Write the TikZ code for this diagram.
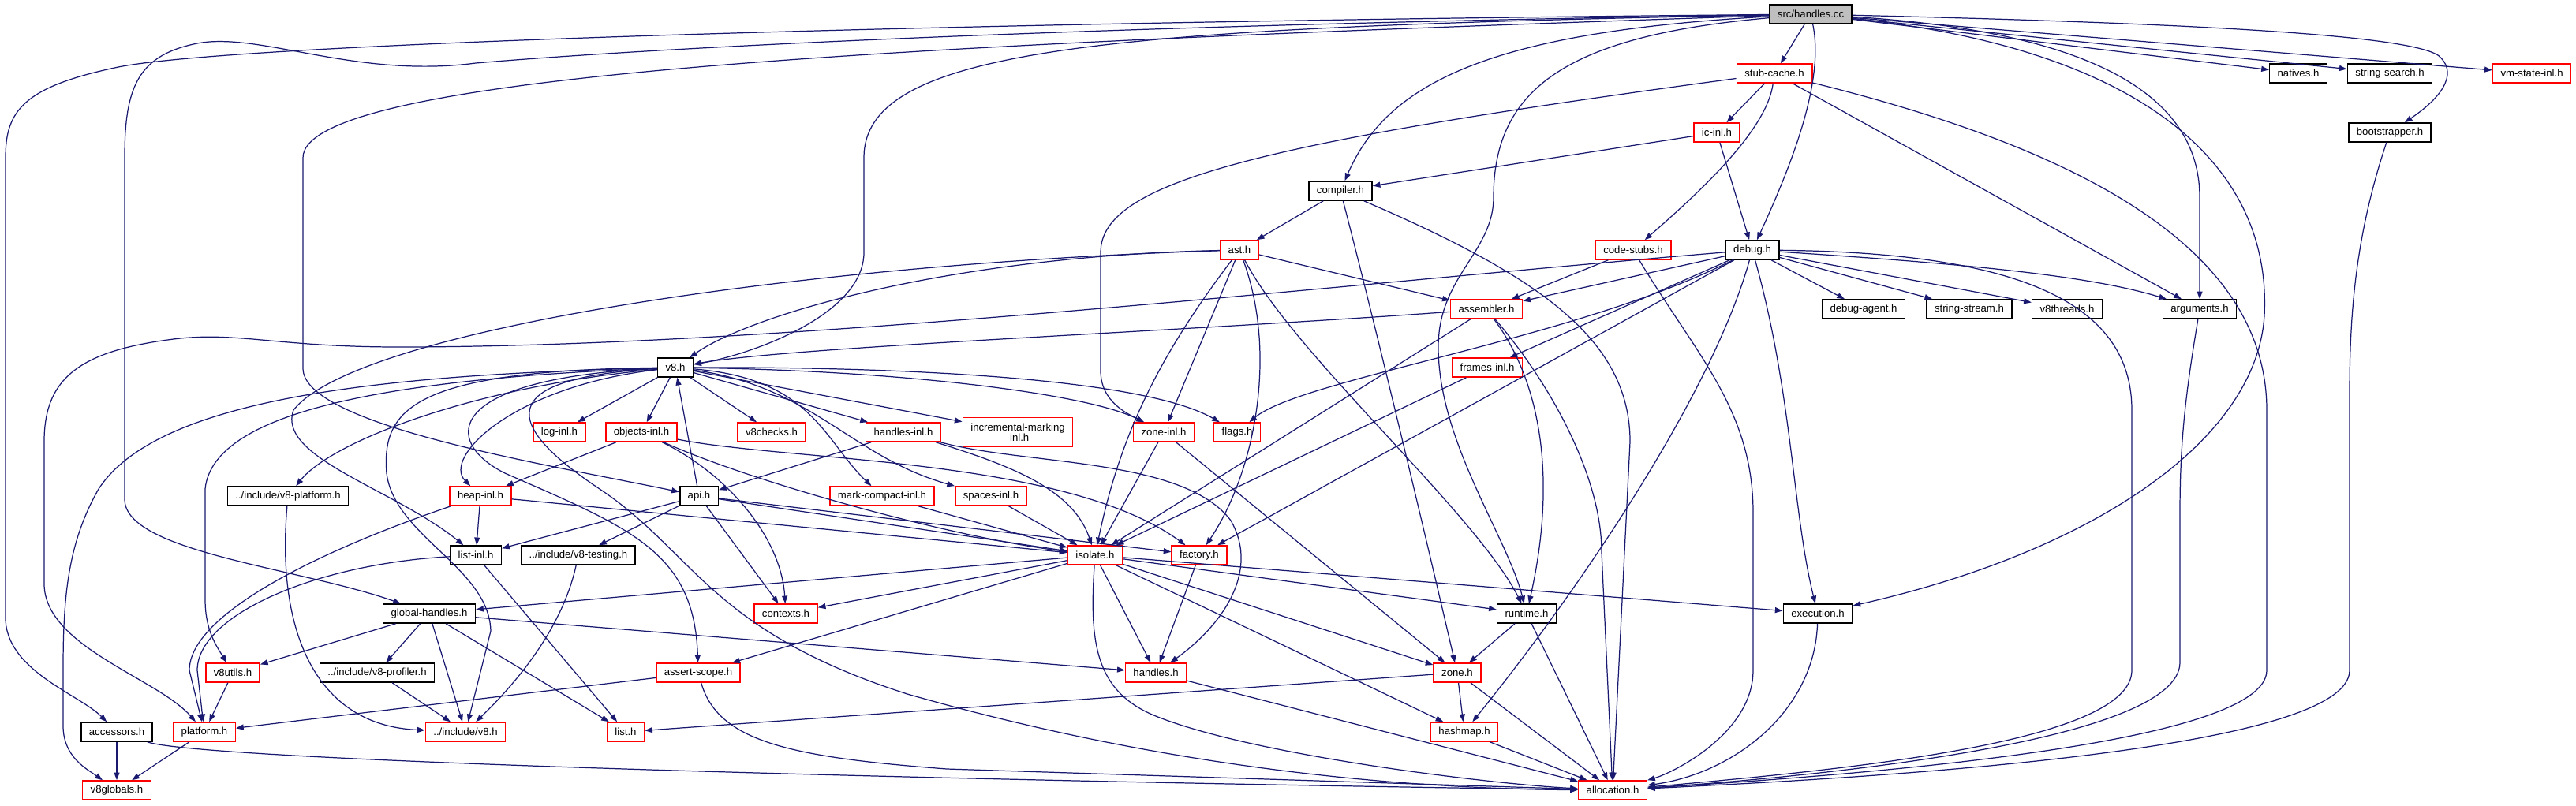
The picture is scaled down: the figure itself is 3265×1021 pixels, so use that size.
\documentclass[tikz,border=0pt]{standalone}
\usepackage{fontspec}
\setmainfont{Liberation Sans}
\usepackage{xcolor}
\usetikzlibrary{arrows.meta}
\definecolor{edgeblue}{HTML}{191970}
\definecolor{rootgray}{HTML}{BFBFBF}

\begin{document}
\begin{tikzpicture}[x=0.02cm, y=-0.02cm,
    hdr/.style={draw=black, line width=0.9pt, fill=white, inner xsep=0.2cm, inner ysep=0pt,
        minimum height=0.48cm, font=\fontsize{7.5}{7.6}\selectfont},
    hdrred/.style={hdr, draw=red},
    hdrroot/.style={hdr, fill=rootgray},
    incl/.style={draw=edgeblue, line width=0.7pt, -{Triangle[length=5.5pt, width=4pt]}}]
    \useasboundingbox (0,0) rectangle (3265,1021);

    % 1. Các nút (từng hàng từ trên xuống)
    \node[hdrroot] (handlescc) at (2295,18) {src/handles.cc};

    \node[hdrred] (stubcache) at (2249,93) {stub-cache.h};
    \node[hdr] (natives) at (2913,93) {natives.h};
    \node[hdr] (strsearch) at (3029,93) {string-search.h};
    \node[hdrred] (vmstate) at (3209,93) {vm-state-inl.h};

    \node[hdrred] (icinl) at (2176,168) {ic-inl.h};
    \node[hdr] (bootstrapper) at (3029,168) {bootstrapper.h};

    \node[hdr] (compiler) at (1699,242) {compiler.h};

    \node[hdrred] (ast) at (1571,317) {ast.h};
    \node[hdrred] (codestubs) at (2070,317) {code-stubs.h};
    \node[hdr] (debug) at (2221,317) {debug.h};

    \node[hdrred] (assembler) at (1884,392) {assembler.h};
    \node[hdr] (debugagent) at (2362,392) {debug-agent.h};
    \node[hdr] (strstream) at (2496,392) {string-stream.h};
    \node[hdr] (v8threads) at (2620,392) {v8threads.h};
    \node[hdr] (arguments) at (2788,392) {arguments.h};

    \node[hdr] (v8) at (856,466) {v8.h};
    \node[hdrred] (framesinl) at (1885,466) {frames-inl.h};

    \node[hdrred] (loginl) at (709,548) {log-inl.h};
    \node[hdrred] (objectsinl) at (813,548) {objects-inl.h};
    \node[hdrred] (v8checks) at (978,548) {v8checks.h};
    \node[hdrred] (handlesinl) at (1145,548) {handles-inl.h};
    \node[hdrred, align=center, minimum height=0.74cm] (incmarking) at (1290,548) {incremental-marking\\-inl.h};
    \node[hdrred] (zoneinl) at (1475,548) {zone-inl.h};
    \node[hdrred] (flags) at (1568,548) {flags.h};

    \node[hdr] (v8platform) at (365,629) {../include/v8-platform.h};
    \node[hdrred] (heapinl) at (609,629) {heap-inl.h};
    \node[hdr] (api) at (886,629) {api.h};
    \node[hdrred] (markcompact) at (1118,629) {mark-compact-inl.h};
    \node[hdrred] (spacesinl) at (1256,629) {spaces-inl.h};

    \node[hdr] (listinl) at (603,704) {list-inl.h};
    \node[hdr] (v8testing) at (733,704) {../include/v8-testing.h};
    \node[hdrred] (isolate) at (1388,704) {isolate.h};
    \node[hdrred] (factory) at (1520,704) {factory.h};

    \node[hdr] (globalhandles) at (544,778) {global-handles.h};
    \node[hdrred] (contexts) at (996,778) {contexts.h};
    \node[hdr] (runtime) at (1935,778) {runtime.h};
    \node[hdr] (execution) at (2304,778) {execution.h};

    \node[hdrred] (v8utils) at (295,853) {v8utils.h};
    \node[hdr] (v8profiler) at (478,853) {../include/v8-profiler.h};
    \node[hdrred] (assertscope) at (885,853) {assert-scope.h};
    \node[hdrred] (handles) at (1465,853) {handles.h};
    \node[hdrred] (zone) at (1847,853) {zone.h};

    \node[hdr] (accessors) at (148,928) {accessors.h};
    \node[hdrred] (platform) at (259,928) {platform.h};
    \node[hdrred] (incv8) at (590,928) {../include/v8.h};
    \node[hdrred] (list) at (793,928) {list.h};
    \node[hdrred] (hashmap) at (1856,928) {hashmap.h};

    \node[hdrred] (v8globals) at (148,1002) {v8globals.h};
    \node[hdrred] (allocation) at (2044,1002) {allocation.h};

    % 2. Cạnh xuất phát từ src/handles.cc
    \draw[incl] (handlescc) -- (stubcache);
    \draw[incl] (handlescc) .. controls (2312,100) and (2275,200) .. (debug);
    \draw[incl] (handlescc) -- (natives);
    \draw[incl] (handlescc) -- (strsearch);
    \draw[incl] (handlescc) -- (vmstate);
    \draw[incl] (handlescc) .. controls (2800,30) and (3050,45) .. (3090,70) .. controls (3115,90) and (3100,120) .. (bootstrapper);
    \draw[incl] (handlescc) .. controls (2650,40) and (2788,120) .. (2788,250) -- (arguments);
    \draw[incl] (handlescc) .. controls (2700,60) and (2880,200) .. (2870,400) .. controls (2860,560) and (2650,700) .. (execution);
    \draw[incl] (handlescc) .. controls (1990,45) and (1893,110) .. (1893,250) .. controls (1893,320) and (1823,350) .. (1823,440) .. controls (1823,560) and (1910,680) .. (runtime);
    \draw[incl] (handlescc) .. controls (1900,40) and (1760,100) .. (compiler);
    \draw[incl] (handlescc) .. controls (1400,35) and (1095,60) .. (1095,200) -- (1095,320) .. controls (1095,400) and (950,450) .. (v8);
    \draw[incl] (handlescc) .. controls (1200,55) and (384,90) .. (384,200) -- (384,467) .. controls (384,540) and (700,590) .. (api);
    \draw[incl] (handlescc) .. controls (1500,30) and (900,55) .. (603,80) .. controls (450,100) and (330,40) .. (250,55) .. controls (175,70) and (158,110) .. (158,200) -- (158,633) .. controls (158,700) and (380,720) .. (globalhandles);
    \draw[incl] (handlescc) .. controls (1200,28) and (300,55) .. (150,85) .. controls (30,110) and (7,140) .. (7,200) -- (7,783) .. controls (7,850) and (100,880) .. (accessors);

    % 3. stub-cache.h, ic-inl.h, bootstrapper.h, compiler.h
    \draw[incl] (stubcache) -- (icinl);
    \draw[incl] (stubcache) .. controls (2240,160) and (2170,230) .. (codestubs);
    \draw[incl] (stubcache) -- (arguments);
    \draw[incl] (stubcache) .. controls (1600,180) and (1395,230) .. (1395,320) -- (1395,470) .. controls (1395,510) and (1430,525) .. (zoneinl);
    \draw[incl] (stubcache) .. controls (2600,180) and (2873,300) .. (2873,520) -- (2873,850) .. controls (2873,940) and (2400,980) .. (allocation);
    \draw[incl] (icinl) -- (compiler);
    \draw[incl] (icinl) -- (debug);
    \draw[incl] (bootstrapper) .. controls (2985,300) and (2978,400) .. (2978,500) -- (2978,850) .. controls (2978,950) and (2400,985) .. (allocation);
    \draw[incl] (compiler) -- (ast);
    \draw[incl] (compiler) .. controls (1740,400) and (1800,650) .. (zone);
    \draw[incl] (compiler) .. controls (1950,350) and (2066,430) .. (2066,560) -- (allocation);

    % 4. ast.h, code-stubs.h
    \draw[incl] (ast) .. controls (1200,325) and (950,400) .. (v8);
    \draw[incl] (ast) -- (assembler);
    \draw[incl] (ast) .. controls (1470,450) and (1420,550) .. (isolate);
    \draw[incl] (ast) -- (zoneinl);
    \draw[incl] (ast) .. controls (1620,450) and (1590,600) .. (factory);
    \draw[incl] (ast) .. controls (1640,450) and (1870,650) .. (runtime);
    \draw[incl] (ast) .. controls (1000,335) and (450,420) .. (372,520) .. controls (350,580) and (500,620) .. (listinl);
    \draw[incl] (codestubs) -- (assembler);
    \draw[incl] (codestubs) .. controls (2150,450) and (2222,520) .. (2222,650) -- (2222,850) .. controls (2222,930) and (2120,980) .. (allocation);

    % 5. debug.h
    \draw[incl] (debug) -- (assembler);
    \draw[incl] (debug) -- (framesinl);
    \draw[incl] (debug) -- (debugagent);
    \draw[incl] (debug) -- (strstream);
    \draw[incl] (debug) -- (v8threads);
    \draw[incl] (debug) .. controls (2500,335) and (2650,350) .. (arguments);
    \draw[incl] (debug) .. controls (2000,430) and (1650,480) .. (flags);
    \draw[incl] (debug) -- (factory);
    \draw[incl] (debug) .. controls (2170,500) and (2000,750) .. (hashmap);
    \draw[incl] (debug) .. controls (2272,500) and (2272,650) .. (execution);
    \draw[incl] (debug) .. controls (2550,320) and (2702,380) .. (2702,520) -- (2702,850) .. controls (2702,940) and (2350,975) .. (allocation);
    \draw[incl] (debug) .. controls (1700,360) and (1000,440) .. (505,440) .. controls (350,440) and (300,420) .. (220,430) .. controls (100,445) and (56,480) .. (56,560) -- (56,740) .. controls (56,820) and (200,860) .. (platform);

    % 6. assembler.h, frames-inl.h, arguments.h
    \draw[incl] (assembler) .. controls (1500,420) and (1000,440) .. (v8);
    \draw[incl] (assembler) -- (isolate);
    \draw[incl] (assembler) .. controls (1950,480) and (1975,600) .. (runtime);
    \draw[incl] (assembler) .. controls (1960,480) and (2030,600) .. (2030,700) -- (allocation);
    \draw[incl] (framesinl) -- (isolate);
    \draw[incl] (arguments) .. controls (2770,500) and (2763,560) .. (2763,650) -- (2763,840) .. controls (2763,940) and (2300,985) .. (allocation);

    % 7. v8.h
    \draw[incl] (v8) -- (loginl);
    \draw[incl] (v8) -- (objectsinl);
    \draw[incl] (v8) -- (v8checks);
    \draw[incl] (v8) -- (handlesinl);
    \draw[incl] (v8) -- (incmarking);
    \draw[incl] (v8) .. controls (1150,470) and (1380,500) .. (zoneinl);
    \draw[incl] (v8) .. controls (1150,465) and (1450,480) .. (flags);
    \draw[incl] (v8) .. controls (1030,480) and (1045,560) .. (markcompact);
    \draw[incl] (v8) .. controls (1030,490) and (1080,580) .. (spacesinl);
    \draw[incl] (v8) .. controls (600,490) and (420,560) .. (v8platform);
    \draw[incl] (v8) .. controls (650,490) and (560,580) .. (heapinl);
    \draw[incl] (v8) .. controls (500,480) and (270,520) .. (260,620) -- (260,760) .. controls (260,800) and (275,820) .. (v8utils);
    \draw[incl] (v8) .. controls (480,475) and (200,505) .. (125,620) .. controls (85,690) and (80,760) .. (80,850) -- (80,920) .. controls (80,960) and (110,975) .. (v8globals);
    \draw[incl] (v8) .. controls (520,470) and (484,520) .. (490,600) .. controls (500,680) and (620,720) .. (622,800) -- (incv8);
    \draw[incl] (v8) .. controls (560,480) and (560,560) .. (640,600) .. controls (800,670) and (880,700) .. (assertscope);
    \draw[incl] (v8) .. controls (620,480) and (640,540) .. (760,620) .. controls (880,700) and (900,800) .. (1150,880) .. controls (1500,980) and (1800,1000) .. (allocation);

    % 8. Các tệp -inl.h và api.h
    \draw[incl] (objectsinl) -- (heapinl);
    \draw[incl] (objectsinl) .. controls (920,600) and (990,680) .. (contexts);
    \draw[incl] (objectsinl) .. controls (950,610) and (1200,680) .. (isolate);
    \draw[incl] (objectsinl) .. controls (1000,585) and (1350,580) .. (factory);
    \draw[incl] (handlesinl) -- (api);
    \draw[incl] (handlesinl) .. controls (1280,590) and (1360,620) .. (isolate);
    \draw[incl] (handlesinl) .. controls (1300,590) and (1500,580) .. (1560,660) .. controls (1600,730) and (1540,800) .. (handles);
    \draw[incl] (zoneinl) -- (isolate);
    \draw[incl] (zoneinl) -- (zone);
    \draw[incl] (markcompact) -- (isolate);
    \draw[incl] (spacesinl) -- (isolate);
    \draw[incl] (heapinl) -- (listinl);
    \draw[incl] (heapinl) .. controls (400,700) and (240,780) .. (240,850) -- (platform);
    \draw[incl] (heapinl) -- (isolate);
    \draw[incl] (api) -- (v8);
    \draw[incl] (api) -- (listinl);
    \draw[incl] (api) -- (v8testing);
    \draw[incl] (api) -- (contexts);
    \draw[incl] (api) -- (factory);
    \draw[incl] (api) -- (isolate);
    \draw[incl] (v8platform) .. controls (350,800) and (400,920) .. (incv8);
    \draw[incl] (listinl) -- (list);
    \draw[incl] (listinl) .. controls (400,715) and (250,780) .. (250,850) -- (platform);
    \draw[incl] (v8testing) .. controls (712,800) and (650,870) .. (incv8);

    % 9. isolate.h và các tệp phía dưới
    \draw[incl] (isolate) -- (globalhandles);
    \draw[incl] (isolate) -- (contexts);
    \draw[incl] (isolate) -- (assertscope);
    \draw[incl] (isolate) -- (handles);
    \draw[incl] (isolate) -- (zone);
    \draw[incl] (isolate) -- (hashmap);
    \draw[incl] (isolate) -- (runtime);
    \draw[incl] (isolate) -- (execution);
    \draw[incl] (isolate) .. controls (1380,820) and (1390,880) .. (1470,910) .. controls (1600,960) and (1900,995) .. (allocation);
    \draw[incl] (factory) -- (handles);
    \draw[incl] (globalhandles) -- (v8utils);
    \draw[incl] (globalhandles) -- (v8profiler);
    \draw[incl] (globalhandles) -- (incv8);
    \draw[incl] (globalhandles) -- (list);
    \draw[incl] (globalhandles) -- (handles);
    \draw[incl] (runtime) -- (zone);
    \draw[incl] (runtime) -- (allocation);
    \draw[incl] (execution) .. controls (2300,900) and (2200,980) .. (allocation);
    \draw[incl] (v8utils) -- (platform);
    \draw[incl] (v8profiler) -- (incv8);
    \draw[incl] (assertscope) -- (platform);
    \draw[incl] (assertscope) .. controls (910,940) and (1000,960) .. (1200,975) -- (allocation);
    \draw[incl] (handles) -- (allocation);
    \draw[incl] (zone) -- (list);
    \draw[incl] (zone) -- (hashmap);
    \draw[incl] (zone) -- (allocation);
    \draw[incl] (hashmap) -- (allocation);
    \draw[incl] (accessors) -- (v8globals);
    \draw[incl] (accessors) .. controls (260,965) and (1200,990) .. (allocation);
    \draw[incl] (platform) -- (v8globals);

\end{tikzpicture}
\end{document}
